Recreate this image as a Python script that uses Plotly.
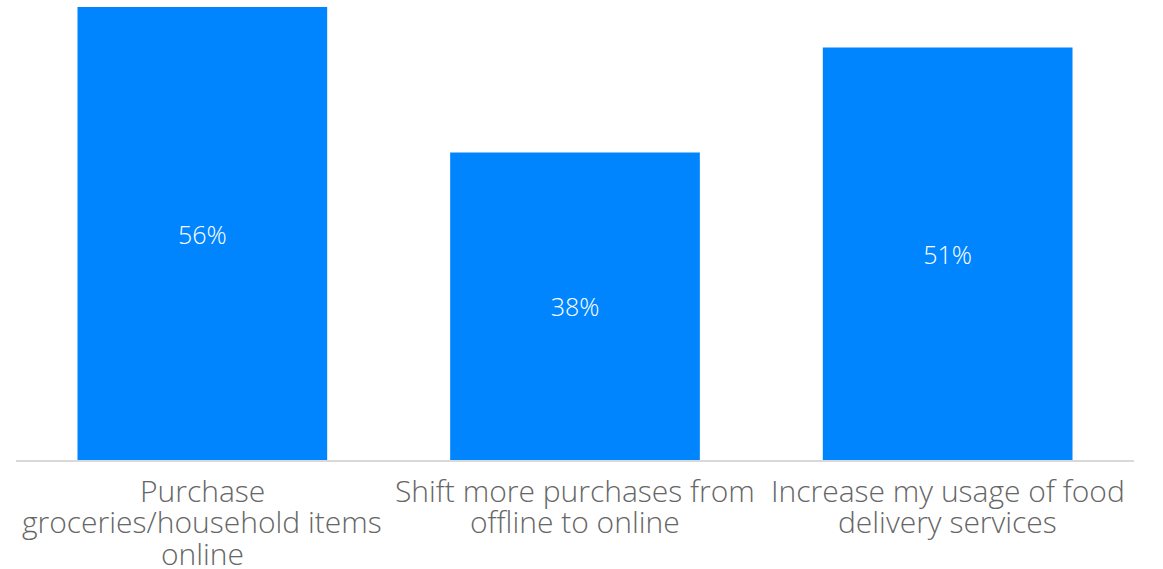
import plotly.graph_objects as go

# Survey responses: share of respondents per intended behaviour change
categories = [
    "Purchase groceries/household items online",
    "Shift more purchases from offline to online",
    "Increase my usage of food delivery services",
]
label_lines = [
    ["Purchase", "groceries/household items", "online"],
    ["Shift more purchases from", "offline to online"],
    ["Increase my usage of food", "delivery services"],
]
values = [56, 38, 51]

BAR_COLOR = "#0085FF"
FONT = "Open Sans"

fig = go.Figure(
    go.Bar(
        x=categories,
        y=values,
        marker=dict(color=BAR_COLOR, line=dict(width=0)),
        text=[f"{v}%" for v in values],
        textposition="inside",
        insidetextanchor="middle",
        textfont=dict(family=FONT, size=25, color="white", weight=300),
        hoverinfo="skip",
    )
)

# Multi-line category labels, drawn line by line for tight leading
annotations = []
for cat, lines in zip(categories, label_lines):
    for i, line in enumerate(lines):
        annotations.append(
            dict(
                x=cat, xref="x",
                y=0, yref="paper",
                yanchor="top", xanchor="center",
                yshift=-7.5 - i * 31.5,
                text=line,
                showarrow=False,
                font=dict(family=FONT, size=30, color="#666666", weight=300),
            )
        )

fig.update_layout(
    width=1163,
    height=569,
    margin=dict(l=16, r=29, t=7, b=109),
    paper_bgcolor="white",
    plot_bgcolor="white",
    bargap=0.33,
    showlegend=False,
    annotations=annotations,
    uniformtext=dict(mode=False),
)
fig.update_xaxes(
    showticklabels=False,
    showline=True,
    linecolor="#d9d9d9",
    linewidth=1.5,
    ticks="",
    showgrid=False,
)
fig.update_yaxes(
    range=[0, 56],
    visible=False,
    showgrid=False,
    zeroline=False,
)

fig.write_html("out.html", config={"displayModeBar": False})
